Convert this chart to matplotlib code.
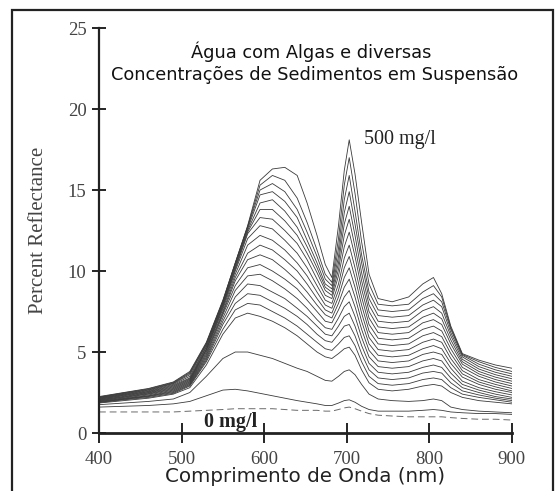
import matplotlib
matplotlib.use("Agg")
import matplotlib.pyplot as plt
from matplotlib.patches import Rectangle

# comprimentos de onda (nm) dos pontos lidos em cada espectro
wavelength = [400, 430, 460, 490, 510, 530, 550, 565, 580, 595, 610, 625, 640, 652, 664, 674, 682,
              690, 697, 703, 710, 718, 727, 738, 755, 775, 792, 805, 815, 826, 840, 860, 880, 900]

# reflectância (%) - do 0 mg/l até 500 mg/l
r00 = [1.3, 1.3, 1.3, 1.3, 1.35, 1.4, 1.45, 1.5, 1.5, 1.5, 1.5, 1.45, 1.4, 1.4, 1.4, 1.35, 1.35,
       1.45, 1.55, 1.6, 1.5, 1.35, 1.2, 1.1, 1.05, 1.0, 1.0, 1.0, 1.0, 0.95, 0.9, 0.85, 0.85, 0.8]
r01 = [1.6, 1.65, 1.7, 1.8, 1.95, 2.3, 2.65, 2.7, 2.6, 2.45, 2.3, 2.15, 2.0, 1.9, 1.8, 1.7, 1.7,
       1.85, 2.0, 2.05, 1.9, 1.65, 1.45, 1.35, 1.35, 1.35, 1.4, 1.45, 1.4, 1.3, 1.25, 1.2, 1.2, 1.15]
r02 = [1.75, 1.85, 1.95, 2.1, 2.5, 3.5, 4.6, 5.0, 5.0, 4.8, 4.6, 4.3, 4.0, 3.8, 3.5, 3.25, 3.2,
       3.5, 3.8, 3.9, 3.6, 3.0, 2.4, 2.1, 2.0, 1.95, 2.0, 2.1, 2.0, 1.6, 1.45, 1.35, 1.3, 1.25]
r03 = [1.85, 2.0, 2.15, 2.4, 2.8, 4.2, 6.1, 7.1, 7.4, 7.2, 6.9, 6.5, 6.0, 5.5, 5.0, 4.7, 4.6,
       4.9, 5.2, 5.3, 4.8, 3.9, 3.1, 2.7, 2.6, 2.7, 2.9, 3.0, 2.9, 2.5, 2.2, 2.0, 1.9, 1.8]
r04 = [1.88, 2.05, 2.2, 2.45, 2.9, 4.4, 6.4, 7.6, 8.0, 7.9, 7.5, 7.1, 6.6, 6.1, 5.6, 5.2, 5.1,
       5.5, 5.9, 6.0, 5.4, 4.4, 3.5, 3.05, 2.95, 3.05, 3.3, 3.4, 3.3, 2.8, 2.4, 2.2, 2.05, 1.9]
r05 = [1.9, 2.08, 2.25, 2.5, 2.95, 4.5, 6.7, 8.0, 8.6, 8.5, 8.1, 7.7, 7.2, 6.7, 6.1, 5.7, 5.6,
       6.1, 6.6, 6.7, 6.0, 4.9, 3.9, 3.4, 3.3, 3.4, 3.7, 3.8, 3.7, 3.1, 2.6, 2.35, 2.15, 2.0]
r06 = [1.93, 2.1, 2.28, 2.55, 3.0, 4.6, 6.9, 8.4, 9.2, 9.1, 8.7, 8.3, 7.7, 7.2, 6.6, 6.1, 6.0,
       6.6, 7.2, 7.4, 6.6, 5.4, 4.3, 3.75, 3.65, 3.75, 4.05, 4.2, 4.05, 3.4, 2.8, 2.5, 2.25, 2.1]
r07 = [1.95, 2.13, 2.3, 2.6, 3.05, 4.7, 7.1, 8.8, 9.7, 9.8, 9.4, 8.9, 8.3, 7.7, 7.0, 6.5, 6.4,
       7.1, 7.8, 8.1, 7.2, 5.9, 4.7, 4.1, 4.0, 4.1, 4.45, 4.6, 4.45, 3.7, 3.0, 2.65, 2.4, 2.2]
r08 = [1.98, 2.16, 2.35, 2.65, 3.1, 4.8, 7.3, 9.1, 10.2, 10.4, 10.0, 9.5, 8.9, 8.2, 7.5, 6.9, 6.8,
       7.6, 8.4, 8.8, 7.8, 6.4, 5.1, 4.45, 4.35, 4.45, 4.85, 5.0, 4.85, 4.0, 3.2, 2.8, 2.55, 2.35]
r09 = [2.0, 2.2, 2.4, 2.7, 3.15, 4.9, 7.4, 9.4, 10.7, 11.0, 10.7, 10.1, 9.4, 8.7, 7.9, 7.3, 7.1,
       8.0, 9.0, 9.5, 8.4, 6.9, 5.5, 4.8, 4.7, 4.8, 5.2, 5.4, 5.2, 4.3, 3.45, 3.0, 2.7, 2.5]
r10 = [2.03, 2.23, 2.43, 2.75, 3.2, 5.0, 7.5, 9.6, 11.1, 11.6, 11.3, 10.7, 10.0, 9.2, 8.3, 7.6, 7.4,
       8.4, 9.6, 10.2, 9.0, 7.4, 5.9, 5.15, 5.05, 5.15, 5.6, 5.8, 5.6, 4.6, 3.65, 3.15, 2.85, 2.6]
r11 = [2.05, 2.26, 2.47, 2.8, 3.25, 5.1, 7.65, 9.8, 11.6, 12.2, 11.9, 11.3, 10.5, 9.7, 8.7, 7.9, 7.7,
       8.8, 10.2, 10.9, 9.6, 7.9, 6.3, 5.5, 5.4, 5.5, 6.0, 6.2, 5.95, 4.9, 3.85, 3.3, 3.0, 2.75]
r12 = [2.08, 2.3, 2.5, 2.85, 3.3, 5.15, 7.75, 10.0, 12.0, 12.8, 12.6, 11.9, 11.1, 10.2, 9.1, 8.2, 8.0,
       9.2, 10.8, 11.6, 10.2, 8.4, 6.7, 5.85, 5.75, 5.85, 6.4, 6.6, 6.3, 5.2, 4.05, 3.5, 3.15, 2.9]
r13 = [2.1, 2.33, 2.54, 2.9, 3.35, 5.2, 7.85, 10.1, 12.3, 13.3, 13.2, 12.5, 11.7, 10.7, 9.5, 8.5, 8.3,
       9.7, 11.5, 12.4, 10.9, 8.9, 7.1, 6.2, 6.1, 6.2, 6.8, 7.0, 6.7, 5.5, 4.25, 3.65, 3.3, 3.05]
r14 = [2.13, 2.36, 2.57, 2.95, 3.4, 5.3, 7.9, 10.2, 12.4, 13.8, 13.8, 13.1, 12.2, 11.1, 9.9, 8.8, 8.5,
       10.1, 12.2, 13.2, 11.5, 9.4, 7.5, 6.55, 6.45, 6.55, 7.15, 7.4, 7.05, 5.75, 4.4, 3.8, 3.45, 3.2]
r15 = [2.15, 2.39, 2.61, 3.0, 3.5, 5.35, 8.0, 10.3, 12.5, 14.2, 14.4, 13.7, 12.7, 11.5, 10.2, 9.0, 8.7,
       10.5, 12.9, 14.0, 12.2, 9.9, 7.9, 6.9, 6.8, 6.9, 7.55, 7.8, 7.4, 6.0, 4.55, 3.95, 3.6, 3.35]
r16 = [2.18, 2.42, 2.65, 3.05, 3.6, 5.45, 8.05, 10.4, 12.6, 14.7, 14.9, 14.3, 13.3, 11.9, 10.5, 9.2, 8.9,
       10.9, 13.6, 14.9, 12.9, 10.5, 8.3, 7.25, 7.15, 7.25, 7.9, 8.2, 7.8, 6.2, 4.7, 4.1, 3.75, 3.5]
r17 = [2.2, 2.45, 2.68, 3.08, 3.68, 5.5, 8.1, 10.45, 12.7, 15.0, 15.4, 14.9, 13.8, 12.4, 10.9, 9.5, 9.1,
       11.4, 14.4, 15.9, 13.7, 11.0, 8.7, 7.6, 7.5, 7.6, 8.3, 8.6, 8.1, 6.4, 4.8, 4.25, 3.9, 3.65]
r18 = [2.22, 2.48, 2.72, 3.12, 3.74, 5.55, 8.15, 10.5, 12.75, 15.3, 15.9, 15.6, 14.5, 13.0, 11.3, 9.8, 9.3,
       12.0, 15.3, 17.0, 14.8, 11.8, 9.2, 7.95, 7.85, 7.95, 8.7, 9.1, 8.4, 6.5, 4.85, 4.4, 4.05, 3.8]
r19 = [2.25, 2.5, 2.75, 3.15, 3.8, 5.6, 8.2, 10.5, 12.8, 15.6, 16.3, 16.4, 15.9, 14.2, 12.2, 10.4, 9.6,
       12.8, 16.2, 18.1, 16.0, 13.0, 9.8, 8.3, 8.1, 8.4, 9.2, 9.6, 8.6, 6.6, 4.9, 4.5, 4.2, 4.0]

spectra = [r01, r02, r03, r04, r05, r06, r07, r08, r09, r10,
           r11, r12, r13, r14, r15, r16, r17, r18, r19]

xticks = [400, 500, 600, 700, 800, 900]
yticks = [0, 5, 10, 15, 20, 25]

serif = ["Liberation Serif", "DejaVu Serif"]
sans = ["DejaVu Sans"]

fig = plt.figure(figsize=(5.58, 4.91), dpi=100)
ax = fig.add_axes([0.1774, 0.1181, 0.740, 0.8248])

ax.plot(wavelength, r00, color="#6a6a6a", lw=0.7, dashes=(7, 4))
for r in spectra:
    ax.plot(wavelength, r, color="#3a3a3a", lw=0.6)

ax.set_xlim(400, 900)
ax.set_ylim(0, 25)
ax.set_xticks(xticks)
ax.set_yticks(yticks)
ax.set_xticklabels([str(v) for v in xticks], family=serif, fontsize=13.5, color="#444444")
ax.set_yticklabels([str(v) for v in yticks], family=serif, fontsize=13.5, color="#444444")
ax.tick_params(axis="x", direction="inout", length=14, width=1.2, pad=6)
ax.tick_params(axis="y", direction="inout", length=10, width=1.2, pad=4)

for s in ["top", "right"]:
    ax.spines[s].set_visible(False)
ax.spines["left"].set_linewidth(1.6)
ax.spines["bottom"].set_linewidth(2.0)
ax.spines["left"].set_color("#222222")
ax.spines["bottom"].set_color("#222222")

ax.set_ylabel("Percent Reflectance", family=serif, fontsize=15, color="#444444", labelpad=14)
ax.set_xlabel("Comprimento de Onda (nm)", family=sans, fontsize=14.3, color="#222222", labelpad=-1)

ax.text(721, 18.1, "500 mg/l", family=serif, fontsize=14.5, va="center", ha="left", color="#222222")
ax.text(527, 0.7, "0 mg/l", family=serif, fontsize=14.5, fontweight="bold", va="center", ha="left",
        color="#222222")

fig.text(0.557, 0.894, "Água com Algas e diversas", family=sans, fontsize=12.8,
         ha="center", va="center", color="#111111")
fig.text(0.563, 0.847, "Concentrações de Sedimentos em Suspensão", family=sans, fontsize=12.8,
         ha="center", va="center", color="#111111")

# moldura da figura
fig.patches.append(Rectangle((12 / 558, -0.02), 541 / 558, 0.9996 - 10 / 491 + 0.02,
                             transform=fig.transFigure, fill=False, lw=1.6, ec="#222222"))

fig.savefig("out.png", dpi=100)
